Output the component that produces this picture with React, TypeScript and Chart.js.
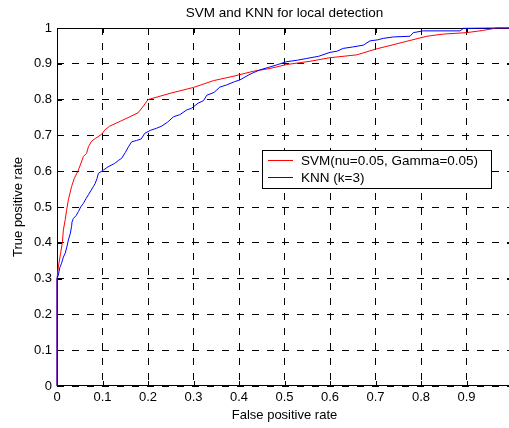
import React, { useEffect, useRef } from 'react';
import { Chart, registerables } from 'chart.js';

Chart.register(...registerables);

const chartTitle = 'SVM and KNN for local detection';
const xAxisTitle = 'False positive rate';
const yAxisTitle = 'True positive rate';
const xTickValues = [0, 0.1, 0.2, 0.3, 0.4, 0.5, 0.6, 0.7, 0.8, 0.9, 1];
const yTickValues = [0, 0.1, 0.2, 0.3, 0.4, 0.5, 0.6, 0.7, 0.8, 0.9, 1];
const seriesLabels = ['SVM(nu=0.05, Gamma=0.05)', 'KNN (k=3)'];
const seriesColors = ['#ff0000', '#0000ff'];

const svmFpr = [0, 0, 0.003, 0.008, 0.012, 0.014, 0.018, 0.021, 0.025, 0.032, 0.038, 0.046, 0.052, 0.058, 0.065, 0.069, 0.076, 0.085, 0.098, 0.105, 0.116, 0.14, 0.16, 0.178, 0.19, 0.2, 0.25, 0.3, 0.344, 0.387, 0.431, 0.468, 0.505, 0.556, 0.6, 0.659, 0.703, 0.732, 0.769, 0.813, 0.849, 0.9, 0.935, 0.966, 1];
const svmTpr = [0, 0.3, 0.333, 0.371, 0.403, 0.436, 0.464, 0.49, 0.52, 0.557, 0.58, 0.6, 0.62, 0.641, 0.65, 0.668, 0.684, 0.692, 0.703, 0.715, 0.726, 0.74, 0.752, 0.763, 0.782, 0.8, 0.818, 0.834, 0.853, 0.865, 0.879, 0.887, 0.898, 0.907, 0.917, 0.925, 0.942, 0.951, 0.963, 0.977, 0.983, 0.987, 0.993, 1, 1];

const knnFpr = [0, 0, 0.003, 0.006, 0.01, 0.014, 0.018, 0.022, 0.025, 0.029, 0.032, 0.033, 0.036, 0.042, 0.047, 0.052, 0.058, 0.064, 0.069, 0.075, 0.08, 0.084, 0.088, 0.091, 0.102, 0.112, 0.127, 0.135, 0.142, 0.15, 0.157, 0.164, 0.175, 0.185, 0.193, 0.205, 0.219, 0.23, 0.243, 0.256, 0.27, 0.285, 0.296, 0.31, 0.322, 0.329, 0.345, 0.358, 0.373, 0.39, 0.402, 0.42, 0.433, 0.446, 0.465, 0.483, 0.505, 0.528, 0.549, 0.575, 0.6, 0.615, 0.629, 0.65, 0.673, 0.688, 0.705, 0.717, 0.739, 0.776, 0.783, 0.805, 0.886, 0.893, 0.966, 1];
const knnTpr = [0, 0.3, 0.31, 0.33, 0.343, 0.36, 0.371, 0.39, 0.408, 0.425, 0.445, 0.458, 0.468, 0.476, 0.487, 0.5, 0.51, 0.524, 0.534, 0.547, 0.557, 0.566, 0.58, 0.594, 0.603, 0.612, 0.622, 0.63, 0.636, 0.652, 0.668, 0.682, 0.686, 0.69, 0.706, 0.714, 0.72, 0.726, 0.737, 0.752, 0.758, 0.771, 0.776, 0.79, 0.797, 0.812, 0.82, 0.835, 0.841, 0.85, 0.855, 0.868, 0.876, 0.883, 0.89, 0.897, 0.906, 0.91, 0.915, 0.921, 0.932, 0.935, 0.943, 0.947, 0.952, 0.964, 0.967, 0.971, 0.975, 0.977, 0.987, 0.992, 0.992, 0.999, 1, 1];

const FONT = '"Liberation Sans", Arial, Helvetica, sans-serif';

const toPoints = (xs: number[], ys: number[]) => xs.map((x, i) => ({ x, y: ys[i] }));

const framePlugin = {
  id: 'matlabFrame',
  beforeDatasetsDraw(chart: any) {
    const { ctx, chartArea: a, scales } = chart;
    ctx.save();
    ctx.setLineDash([]);
    ctx.strokeStyle = '#000';
    ctx.lineWidth = 1;
    const L = 5;
    ctx.beginPath();
    const top = Math.round(a.top) + 0.5;
    const bottom = Math.round(a.bottom) - 0.5;
    const left = Math.round(a.left) + 0.5;
    // axes lines
    ctx.moveTo(a.left, top);
    ctx.lineTo(a.right, top);
    ctx.moveTo(a.left, bottom);
    ctx.lineTo(a.right, bottom);
    ctx.moveTo(left, a.top);
    ctx.lineTo(left, a.bottom);
    xTickValues.forEach((v) => {
      const px = Math.round(scales.x.getPixelForValue(v)) + 0.5;
      ctx.moveTo(px, a.bottom);
      ctx.lineTo(px, a.bottom - L);
      ctx.moveTo(px, a.top);
      ctx.lineTo(px, a.top + L);
    });
    yTickValues.forEach((v) => {
      const py = Math.round(scales.y.getPixelForValue(v)) + 0.5;
      ctx.moveTo(a.left, py);
      ctx.lineTo(a.left + L, py);
      ctx.moveTo(a.right, py);
      ctx.lineTo(a.right - L, py);
    });
    ctx.stroke();
    ctx.restore();
  },
  afterDraw(chart: any) {
    const { ctx, chartArea: a } = chart;
    ctx.save();
    // title
    ctx.fillStyle = '#000';
    ctx.font = `13.5px ${FONT}`;
    ctx.textAlign = 'center';
    ctx.textBaseline = 'middle';
    ctx.fillText(chartTitle, (a.left + a.right) / 2, 13);
    // legend
    const bx = 262.5, by = 150.5, bw = 229, bh = 38;
    ctx.fillStyle = '#fff';
    ctx.fillRect(bx, by, bw, bh);
    ctx.strokeStyle = '#000';
    ctx.lineWidth = 1;
    ctx.setLineDash([]);
    ctx.strokeRect(bx, by, bw, bh);
    ctx.textAlign = 'left';
    chart.data.datasets.forEach((ds: any, i: number) => {
      const y = 160 + i * 17;
      ctx.strokeStyle = ds.borderColor;
      ctx.beginPath();
      ctx.moveTo(268, y + 0.5);
      ctx.lineTo(293, y + 0.5);
      ctx.stroke();
      ctx.fillStyle = '#000';
      ctx.fillText(ds.label, 301, y + 1);
    });
    ctx.restore();
  },
};

export default function App() {
  const canvasRef = useRef<HTMLCanvasElement | null>(null);

  useEffect(() => {
    if (!canvasRef.current) return;
    const chart = new Chart(canvasRef.current, {
      type: 'scatter',
      data: {
        datasets: [
          {
            label: seriesLabels[0],
            data: toPoints(svmFpr, svmTpr),
            showLine: true,
            borderColor: seriesColors[0],
            backgroundColor: seriesColors[0],
            borderWidth: 1,
            pointRadius: 0,
            tension: 0,
            order: 1,
            clip: false,
          },
          {
            label: seriesLabels[1],
            data: toPoints(knnFpr, knnTpr),
            showLine: true,
            borderColor: seriesColors[1],
            backgroundColor: seriesColors[1],
            borderWidth: 1,
            pointRadius: 0,
            tension: 0,
            order: 0,
            clip: false,
          },
        ],
      },
      options: {
        responsive: false,
        animation: false,
        events: [],
        layout: { padding: { left: 0, right: 18, top: 28, bottom: 0 } },
        plugins: {
          legend: { display: false },
          title: { display: false },
          tooltip: { enabled: false },
        },
        scales: {
          x: {
            type: 'linear',
            min: 0,
            max: 1,
            afterFit: (s: any) => { s.height = 42; },
            afterBuildTicks: (s: any) => { s.ticks = xTickValues.map((v) => ({ value: v })); },
            ticks: {
              color: '#000',
              font: { family: FONT, size: 13 },
              padding: 4,
              maxRotation: 0,
              autoSkip: false,
              callback: (v: any) => (Number(v) >= 1 ? '' : String(Math.round(Number(v) * 10) / 10)),
            },
            grid: { color: '#000', lineWidth: 1, drawTicks: false },
            border: { display: false, dash: [7, 8] },
            title: {
              display: true,
              text: xAxisTitle,
              color: '#000',
              font: { family: FONT, size: 13 },
              padding: { top: 0, bottom: 5 },
            },
          },
          y: {
            type: 'linear',
            min: 0,
            max: 1,
            afterFit: (s: any) => { s.width = 57; },
            afterBuildTicks: (s: any) => { s.ticks = yTickValues.map((v) => ({ value: v })); },
            ticks: {
              color: '#000',
              font: { family: FONT, size: 13 },
              padding: 5,
              autoSkip: false,
              callback: (v: any) => String(Math.round(Number(v) * 10) / 10),
            },
            grid: { color: '#000', lineWidth: 1, drawTicks: false },
            border: { display: false, dash: [7, 8] },
            title: {
              display: true,
              text: yAxisTitle,
              color: '#000',
              font: { family: FONT, size: 13 },
              padding: { top: 11, bottom: 0 },
            },
          },
        },
      },
      plugins: [framePlugin],
    } as any);
    return () => chart.destroy();
  }, []);

  return (
    <div style={{ position: 'absolute', left: 0, top: 0, width: 509, height: 428, overflow: 'hidden', background: '#fff' }}>
      <canvas ref={canvasRef} width={530} height={428} style={{ display: 'block', width: 530, height: 428 }} />
    </div>
  );
}
